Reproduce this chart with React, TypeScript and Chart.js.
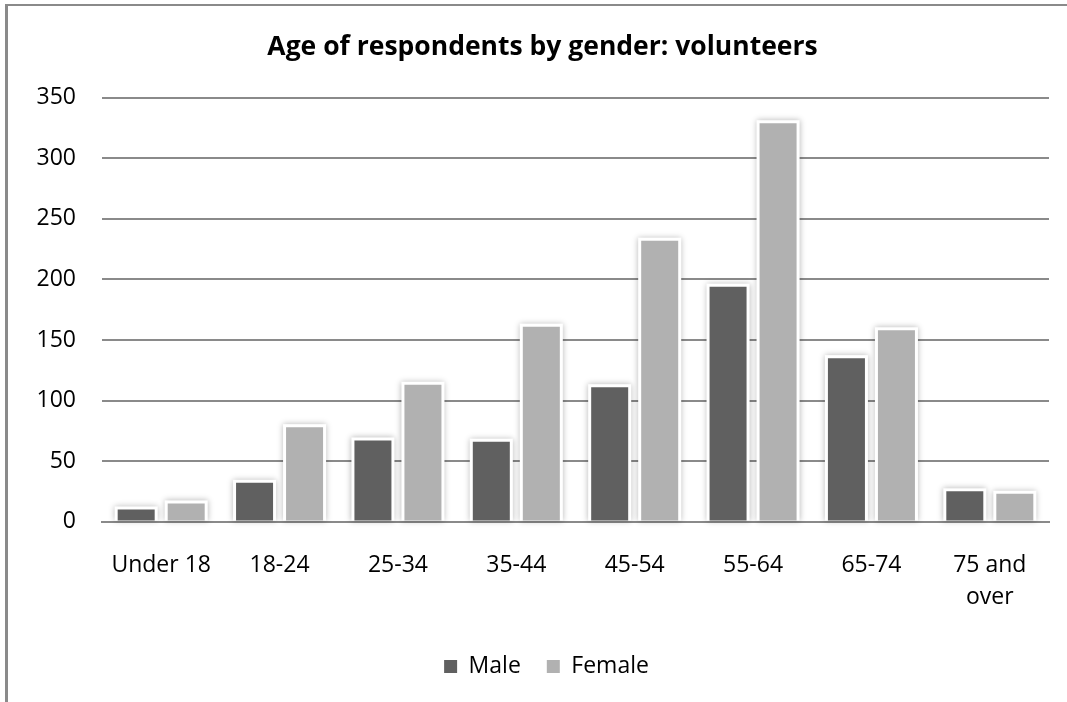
import React, { useEffect, useRef } from "react";
import { Chart, registerables } from "chart.js";

Chart.register(...registerables);

const categories: (string | string[])[] = ["Under 18", "18-24", "25-34", "35-44", "45-54", "55-64", "65-74", ["75 and", "over"]];
const maleValues = [10, 32, 67, 66, 111, 194, 135, 25];
const femaleValues = [15, 78, 113, 161, 232, 329, 158, 23];
const yTicks = [0, 50, 100, 150, 200, 250, 300, 350];

const FONT = "'Open Sans', sans-serif";

const haloPlugin = {
  id: "halo",
  afterLayout(chart: any) {
    if (chart.legend) {
      chart.legend.left += 22;
      chart.legend.right += 22;
    }
    if (chart.titleBlock) {
      chart.titleBlock.left += 18;
      chart.titleBlock.right += 18;
    }
  },
  beforeDatasetsDraw(chart: any) {
    const ctx = chart.ctx;
    ctx.save();
    chart.data.datasets.forEach((_: any, i: number) => {
      const meta = chart.getDatasetMeta(i);
      meta.data.forEach((bar: any) => {
        const p = bar.getProps(["x", "y", "base", "width"], true);
        const left = p.x - p.width / 2 - 3;
        const top = Math.min(p.y, p.base) - 3;
        const w = p.width + 6;
        const h = Math.abs(p.base - p.y) + 3;
        ctx.shadowColor = "rgba(0,0,0,0.28)";
        ctx.shadowBlur = 6;
        ctx.fillStyle = "#ffffff";
        ctx.fillRect(left, top, w, h);
      });
    });
    ctx.restore();
  },
};

export default function App() {
  const ref = useRef<HTMLCanvasElement>(null);
  useEffect(() => {
    if (!ref.current) return;
    const chart = new Chart(ref.current, {
      type: "bar",
      data: {
        labels: categories,
        datasets: [
          { label: "Male", data: maleValues, backgroundColor: "#606060", borderWidth: 0 },
          { label: "Female", data: femaleValues, backgroundColor: "#b1b1b1", borderWidth: 0 },
        ],
      },
      plugins: [haloPlugin],
      options: {
        responsive: false,
        animation: false,
        devicePixelRatio: 1,
        datasets: { bar: { categoryPercentage: 0.845, barPercentage: 0.74 } },
        layout: { padding: { top: 0, right: 18, bottom: 14, left: 0 } },
        plugins: {
          title: {
            display: true,
            text: "Age of respondents by gender: volunteers",
            color: "#000",
            font: { family: FONT, size: 26.5, weight: "bold" },
            padding: { top: 32, bottom: 34 },
          },
          legend: {
            position: "bottom",
            labels: {
              color: "#000",
              font: { family: FONT, size: 23 },
              boxWidth: 13,
              boxHeight: 13,
              padding: 26,
            },
          },
          tooltip: { enabled: false },
        },
        scales: {
          x: {
            afterFit(scale: any) { scale.height -= 13; },
            grid: { display: false, drawTicks: false },
            border: { display: true, color: "#8a8a8a", width: 2 },
            ticks: { color: "#000", font: { family: FONT, size: 23, lineHeight: 1.4 }, padding: 28, maxRotation: 0, autoSkip: false },
          },
          y: {
            min: 0,
            max: 350,
            afterFit(scale: any) { scale.width = 102; },
            afterBuildTicks(scale: any) { scale.ticks = yTicks.map((v) => ({ value: v })); },
            grid: { color: "#8a8a8a", lineWidth: 2, drawTicks: false },
            border: { display: false },
            ticks: { color: "#000", font: { family: FONT, size: 23 }, padding: 26 },
          },
        },
      },
    } as any);
    return () => chart.destroy();
  }, []);
  return (
    <div style={{ position: "fixed", left: 0, top: 0, width: 1067, height: 702, overflow: "hidden", background: "#fff" }}>
      <div style={{ position: "absolute", left: 5, top: 4, width: 1100, height: 720, borderLeft: "3px solid #8a8a8a", borderTop: "2px solid #8a8a8a" }} />
      <canvas ref={ref} width={1067} height={702} style={{ position: "absolute", left: 0, top: 0 }} />
    </div>
  );
}
